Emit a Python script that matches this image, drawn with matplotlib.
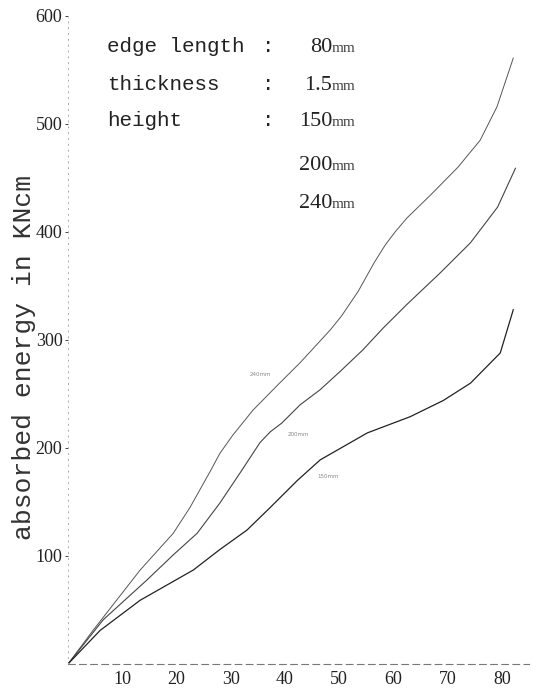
import numpy as np
import matplotlib
matplotlib.use("Agg")
import matplotlib.pyplot as plt

# deformation (mm) vs absorbed energy (KNcm)
x_240 = [0, 4.6, 13.3, 19.4, 22.5, 26.4, 28.0, 30.4, 34.1, 38.6, 42.8, 46.1, 48.3, 50.4, 53.5, 56.5, 58.5, 60.3, 62.5, 66.8, 71.9, 76.0, 79.1, 82.1]
y_240 = [0, 31, 87, 121, 145, 180, 195, 212, 235, 258, 279, 297, 309, 322, 345, 372, 388, 400, 413, 434, 460, 485, 516, 561]

x_200 = [0, 6.5, 14.6, 19.4, 23.8, 28.0, 32.0, 35.4, 37.3, 39.4, 42.8, 46.5, 50.2, 54.4, 58.1, 62.5, 68.6, 74.2, 79.2, 82.5]
y_200 = [0, 41, 78, 101, 121, 149, 179, 205, 215, 223, 240, 254, 271, 291, 311, 333, 362, 390, 423, 459]

x_150 = [0, 5.9, 13.3, 23.1, 28.0, 33.0, 37.3, 42.3, 46.5, 55.2, 63.1, 69.2, 74.2, 79.7, 82.1]
y_150 = [0, 31, 59, 87, 106, 124, 145, 170, 189, 214, 229, 244, 260, 288, 328]

xticks = [10, 20, 30, 40, 50, 60, 70, 80]
yticks = [100, 200, 300, 400, 500, 600]

W, H = 537, 692
fig = plt.figure(figsize=(W / 100, H / 100), dpi=100)
ax = fig.add_axes([68 / W, (H - 664) / H, 461 / W, 648 / H])

ax.plot(x_240, y_240, color='#555555', lw=0.7)
ax.plot(x_200, y_200, color='#444444', lw=0.8)
ax.plot(x_150, y_150, color='#222222', lw=0.9)

ax.set_xlim(0, 85)
ax.set_ylim(0, 600)
ax.set_xticks(xticks)
ax.set_yticks(yticks)
ax.tick_params(axis='x', length=0, pad=5, labelsize=13, colors='#222222')
ax.tick_params(axis='y', length=2, width=0.6, pad=2, labelsize=13, colors='#222222')
for lab in ax.get_xticklabels() + ax.get_yticklabels():
    lab.set_fontfamily('Liberation Serif')

for s in ['top', 'right']:
    ax.spines[s].set_visible(False)
ax.spines['left'].set_color('#aaaaaa')
ax.spines['left'].set_linewidth(0.7)
ax.spines['left'].set_linestyle((0, (1, 5)))
ax.spines['bottom'].set_color('#777777')
ax.spines['bottom'].set_linewidth(0.8)
ax.spines['bottom'].set_linestyle((0, (6, 4)))

mono = 'Liberation Mono'
serif = 'Liberation Serif'


def px(x, y):
    return x / W, 1 - y / H


fig.text(*px(24, 357), 'absorbed energy in KNcm', rotation=90, ha='center', va='center',
         fontsize=19, family=mono, color='#333333')

rows = [('edge length', '80', 47), ('thickness', '1.5', 85), ('height', '150', 121),
        (None, '200', 165), (None, '240', 204)]
for name, val, yy in rows:
    if name:
        fig.text(*px(107, yy), name, ha='left', va='center', fontsize=15, family=mono, color='#222222')
        fig.text(*px(268, yy), ':', ha='center', va='center', fontsize=15, family=mono, color='#222222')
    fig.text(*px(332, yy), val, ha='right', va='center', fontsize=16, family=serif, color='#222222')
    fig.text(*px(332, yy + 1), 'mm', ha='left', va='center', fontsize=11, family=serif, color='#444444')

# tiny curve labels from the scan
fig.text(*px(260, 374), '240mm', ha='center', va='center', fontsize=4, color='#888888')
fig.text(*px(298, 435), '200mm', ha='center', va='center', fontsize=4, color='#888888')
fig.text(*px(328, 476), '150mm', ha='center', va='center', fontsize=4, color='#888888')

fig.savefig('out.png', dpi=100)
